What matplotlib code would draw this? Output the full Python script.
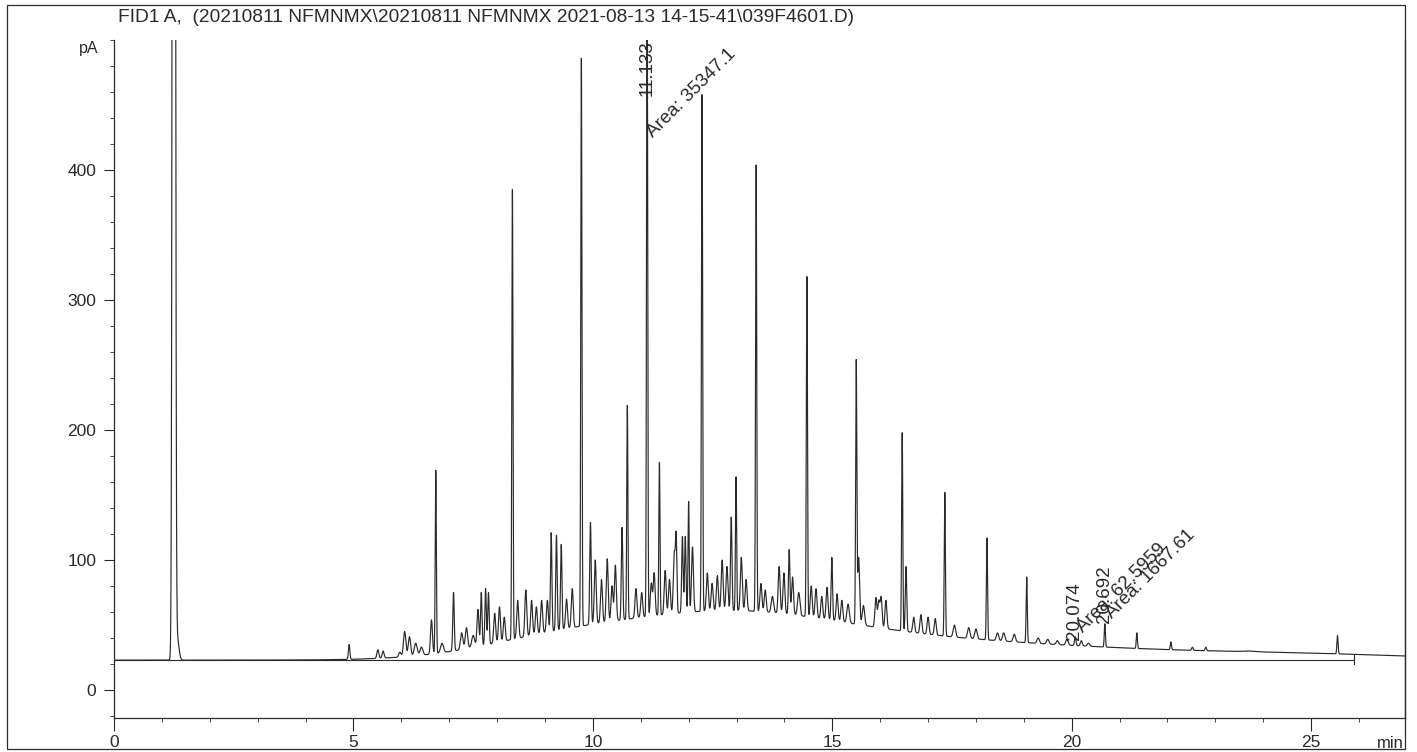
import numpy as np
import matplotlib
matplotlib.use("Agg")
import matplotlib.pyplot as plt
from matplotlib.ticker import MultipleLocator, FixedLocator
from matplotlib.patches import Rectangle

# ---------------- data ----------------
TITLE = "FID1 A,  (20210811 NFMNMX\\20210811 NFMNMX 2021-08-13 14-15-41\\039F4601.D)"
Y_UNIT = "pA"
X_UNIT = "min"
X_TICKS = [0, 5, 10, 15, 20, 25]
Y_TICKS = [0, 100, 200, 300, 400]

# detector offset (flat baseline level, pA)
OFFSET = 23.0
# broad unresolved hump components
HUMP_T = [9.0, 12.5, 17.0, 25.0]
HUMP_H = [8.0, 30.0, 14.0, 3.5]
HUMP_W = [1.5, 2.5, 4.0, 2.5]

# resolved peaks: retention time (min), apex (pA), width (sigma, min)
PEAK_T = [1.25, 1.32,
          4.91, 5.51, 5.62, 5.97, 6.07, 6.17, 6.30, 6.42, 6.63, 6.72, 6.85,
          7.09, 7.26, 7.36, 7.50, 7.60, 7.67, 7.76, 7.82, 7.95, 8.05, 8.15,
          8.32, 8.43, 8.60, 8.72, 8.82, 8.93, 9.05, 9.13, 9.24, 9.34, 9.45,
          9.57, 9.76, 9.95, 10.05, 10.18, 10.30, 10.40, 10.47, 10.61, 10.72,
          10.90, 11.02, 11.133, 11.22, 11.28, 11.39, 11.51, 11.60, 11.70,
          11.74, 11.87, 11.93, 12.00, 12.08, 12.28, 12.39, 12.49, 12.60,
          12.70, 12.80, 12.89, 12.99, 13.10, 13.20, 13.41, 13.51, 13.60,
          13.75, 13.89, 13.99, 14.10, 14.17, 14.30, 14.47, 14.56, 14.66,
          14.78, 14.89, 14.99, 15.10, 15.20, 15.33, 15.50, 15.55, 15.65,
          15.91, 15.97, 16.02, 16.12, 16.46, 16.54, 16.70, 16.85, 17.00,
          17.15, 17.35, 17.55, 17.85, 18.00, 18.23, 18.45, 18.58, 18.80,
          19.06, 19.30, 19.50, 19.70, 19.90, 20.074, 20.20, 20.35, 20.692,
          21.36, 22.07, 22.52, 22.80, 23.70, 25.55]
PEAK_APEX = [2500, 40,
             35, 31, 30, 29, 45, 41, 36, 33, 54, 169, 36,
             75, 44, 48, 42, 62, 75, 78, 75, 59, 64, 56,
             385, 69, 77, 69, 64, 69, 69, 121, 119, 112, 70,
             78, 486, 129, 100, 85, 101, 80, 96, 125, 219,
             78, 75, 560, 82, 90, 175, 92, 85, 105,
             115, 118, 118, 145, 110, 458, 90, 82, 88,
             100, 95, 133, 164, 102, 85, 404, 82, 77,
             72, 95, 90, 108, 87, 75, 318, 80, 78,
             72, 79, 102, 74, 69, 66, 252, 102, 65,
             71, 68, 71, 69, 198, 95, 56, 58, 56,
             55, 152, 50, 48, 47, 117, 44, 44, 43,
             87, 40, 39, 38, 39, 41, 38, 36, 51,
             44, 37, 33, 33, 30, 42]
PEAK_W = [0.022, 0.035,
          0.015, 0.02, 0.02, 0.025, 0.025, 0.025, 0.03, 0.03, 0.02, 0.012, 0.03,
          0.015, 0.025, 0.025, 0.03, 0.02, 0.015, 0.015, 0.015, 0.02, 0.02, 0.02,
          0.012, 0.02, 0.02, 0.02, 0.02, 0.02, 0.02, 0.015, 0.015, 0.015, 0.02,
          0.02, 0.012, 0.015, 0.02, 0.02, 0.02, 0.02, 0.02, 0.015, 0.012,
          0.02, 0.02, 0.012, 0.02, 0.02, 0.012, 0.02, 0.02, 0.02,
          0.015, 0.015, 0.015, 0.012, 0.02, 0.012, 0.02, 0.02, 0.02,
          0.02, 0.02, 0.015, 0.012, 0.02, 0.02, 0.012, 0.02, 0.02,
          0.025, 0.02, 0.02, 0.015, 0.02, 0.025, 0.012, 0.02, 0.02,
          0.02, 0.02, 0.015, 0.02, 0.02, 0.025, 0.012, 0.02, 0.025,
          0.02, 0.02, 0.02, 0.02, 0.012, 0.015, 0.02, 0.02, 0.02,
          0.02, 0.012, 0.025, 0.025, 0.025, 0.012, 0.025, 0.025, 0.025,
          0.012, 0.025, 0.025, 0.025, 0.025, 0.015, 0.02, 0.025, 0.012,
          0.012, 0.012, 0.015, 0.015, 0.12, 0.012]

# annotations: peak label text, area text and where they sit (min, pA)
RT_LABELS = ["11.133", "20.074", "20.692"]
RT_POS = [(11.133, 500.0, "top"), (20.06, 38.5, "bottom"), (20.68, 51.5, "bottom")]
AREA_LABELS = ["Area: 35347.1", "Area: 62.5959", "Area: 1667.61"]
AREA_POS = [(11.26, 425.0), (20.24, 43.8), (20.84, 55.0)]

# integration baseline extent (min)
BASE_START, BASE_END = 0.0, 25.9
X_END = 26.96

# ---------------- build signal ----------------
t = np.linspace(0.0, X_END, 30000)

def gauss(x, c, w):
    return np.exp(-0.5 * ((x - c) / w) ** 2)

def background(x):
    x = np.asarray(x, dtype=float)
    b = np.full_like(x, OFFSET)
    for c, h, w in zip(HUMP_T, HUMP_H, HUMP_W):
        b = b + h * gauss(x, c, w)
    return b

signal = background(t)
for c, a, w in zip(PEAK_T, PEAK_APEX, PEAK_W):
    amp = max(a - float(background(np.array([c]))[0]), 0.0)
    signal = signal + amp * gauss(t, c, w)

# ---------------- figure ----------------
plt.rcParams['font.family'] = ['Liberation Sans', 'DejaVu Sans']
INK = "#2a2a2a"
fig = plt.figure(figsize=(14.17, 7.52), dpi=100)
ax = fig.add_axes([114 / 1417, 34 / 752, (1405 - 114) / 1417, (718 - 40) / 752])

ax.plot(t, signal, color=INK, lw=0.85, clip_on=True)
ax.plot([BASE_START, BASE_END], [OFFSET, OFFSET], color=INK, lw=0.8)
ax.plot([BASE_END, BASE_END], [OFFSET - 3, OFFSET + 4], color=INK, lw=0.8)

ax.set_xlim(0, X_END)
ax.set_ylim(-21.5, 500)

ax.spines["top"].set_visible(False)
for s in ["left", "bottom", "right"]:
    ax.spines[s].set_color(INK)
    ax.spines[s].set_linewidth(0.9)

ax.xaxis.set_major_locator(FixedLocator(X_TICKS))
ax.xaxis.set_minor_locator(MultipleLocator(1))
ax.yaxis.set_major_locator(FixedLocator(Y_TICKS))
ax.yaxis.set_minor_locator(MultipleLocator(20))
ax.tick_params(axis="x", which="major", direction="out", length=9, width=0.8,
               color=INK, labelsize=12.5, labelcolor=INK, pad=3)
ax.tick_params(axis="x", which="minor", direction="out", length=3, width=0.6, color=INK)
ax.tick_params(axis="y", which="major", direction="out", length=7.2, width=0.8,
               color=INK, labelsize=12.5, labelcolor=INK, pad=5.5)
ax.tick_params(axis="y", which="minor", direction="out", length=3, width=0.6, color=INK)
ax.tick_params(right=False, top=False)

fig.text(118 / 1417, 1 - 18 / 752, TITLE, fontsize=13.8, color=INK, ha="left", va="center")
fig.text(98 / 1417, 1 - 48 / 752, Y_UNIT, fontsize=11.5, color=INK, ha="right", va="center")
fig.text(1404 / 1417, 1 - 743 / 752, X_UNIT, fontsize=12, color=INK, ha="right", va="center")

for lab, (x, y, va) in zip(RT_LABELS, RT_POS):
    ax.text(x, y, lab, rotation=90, ha="center", va=va, fontsize=13.5, color=INK)
for lab, (x, y) in zip(AREA_LABELS, AREA_POS):
    ax.text(x, y, lab, rotation=45, rotation_mode="anchor", ha="left", va="baseline",
            fontsize=13.5, color=INK)

# outer frame
fig.patches.append(Rectangle((7 / 1417, 3 / 752), (1405 - 7) / 1417, (747 - 3) / 752,
                             transform=fig.transFigure, fill=False, ec=INK, lw=0.9))

fig.savefig("out.png", dpi=100)
